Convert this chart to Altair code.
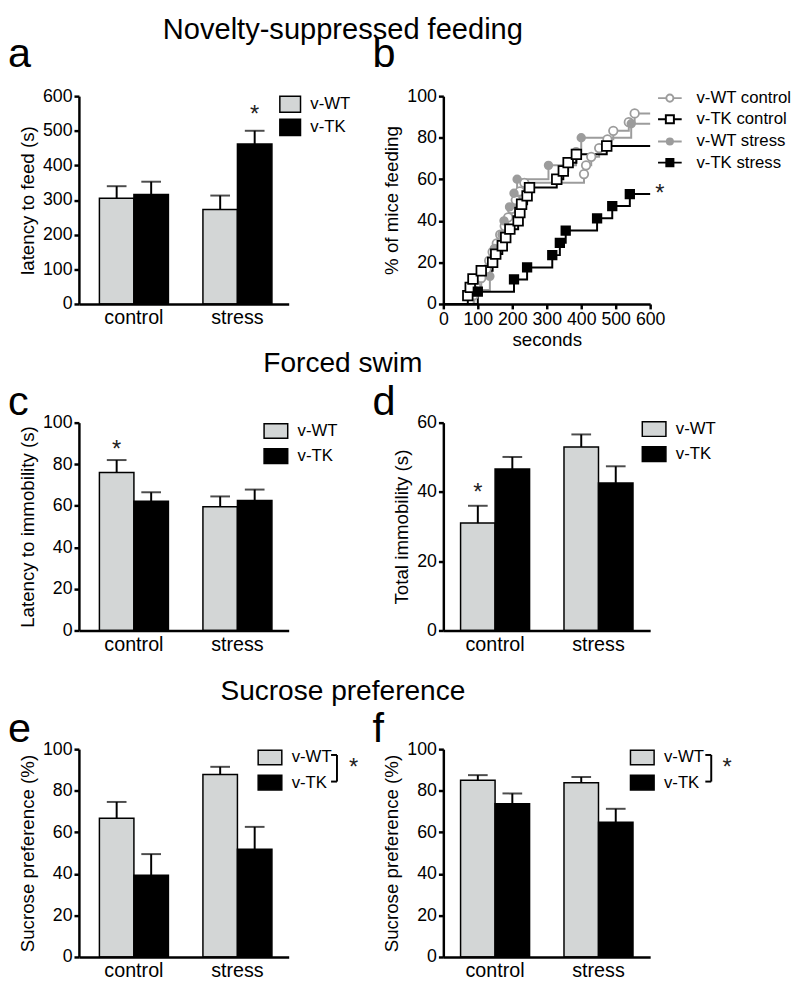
import altair as alt
import pandas as pd

FONT = "Liberation Sans"
BAR_GRAY = "#d3d6d6"
LINE_GRAY = "#9c9c9c"

groups = ["control", "stress"]
genotypes = ["v-WT", "v-TK"]

# ---- panel a: latency to feed (s)
a_wt_mean = [305, 273]
a_wt_sem = [35, 40]
a_tk_mean = [316, 462]
a_tk_sem = [37, 38]

# ---- panel c: latency to immobility (s)
c_wt_mean = [76, 59.5]
c_wt_sem = [6, 5]
c_tk_mean = [62.2, 62.6]
c_tk_sem = [4.3, 5.2]

# ---- panel d: total immobility (s)
d_wt_mean = [31.0, 53.0]
d_wt_sem = [5.0, 3.6]
d_tk_mean = [46.6, 42.6]
d_tk_sem = [3.5, 4.8]

# ---- panel e: sucrose preference (%)
e_wt_mean = [66.7, 87.8]
e_wt_sem = [7.9, 3.7]
e_tk_mean = [39.3, 51.8]
e_tk_sem = [10.2, 10.8]

# ---- panel f: sucrose preference (%)
f_wt_mean = [85.0, 83.8]
f_wt_sem = [2.5, 2.8]
f_tk_mean = [73.7, 64.8]
f_tk_sem = [5.0, 6.5]

# ---- panel b: cumulative % of mice feeding
series = ["v-WT control", "v-TK control", "v-WT stress", "v-TK stress"]
wtc_t = [88, 95, 110, 125, 133, 143, 155, 165, 178, 188, 198, 210, 222, 235,
         408, 414, 429, 452, 476, 493, 538, 555]
wtc_p = [4.2, 8.3, 12.5, 16.7, 20.8, 25.0, 29.2, 33.3, 37.5, 41.7, 45.8, 50.0,
         54.2, 58.3, 62.5, 66.7, 70.8, 75.0, 79.2, 83.3, 87.5, 91.7]
tkc_t = [71, 78, 86, 110, 143, 152, 171, 181, 193, 217, 222, 227, 243, 250,
         329, 348, 362, 386, 474]
tkc_p = [4, 8, 12, 16, 20, 24, 28, 32, 36, 40, 44, 48, 52, 56, 60, 64, 68, 72, 76]
wts_t = [90, 135, 140, 148, 170, 176, 192, 205, 214, 305, 385, 400, 545]
wts_p = [6.7, 13.3, 20.0, 26.7, 33.3, 40.0, 46.7, 53.3, 60.0, 66.7, 73.3, 80.0, 86.7]
tks_t = [100, 205, 243, 316, 338, 355, 446, 490, 541]
tks_p = [5.9, 11.8, 17.6, 23.5, 29.4, 35.3, 41.2, 47.1, 52.9]
b_xmax = 600

section_titles = ["Novelty-suppressed feeding", "Forced swim", "Sucrose preference"]
panel_letters = ["a", "b", "c", "d", "e", "f"]

LEFT_W = 213
RIGHT_W = 210
PANEL_H = 211
COL_GAP = 157
ROW_GAP = 120.5

RECT_PATH = "M-1,-0.62H1V0.62H-1Z"
RECT_PATH_A = "M-1,-0.78H1V0.78H-1Z"
ONE = pd.DataFrame({"k": [0]})


def text_layer(txt, x, y, size, align="left"):
    return alt.Chart(ONE).mark_text(text=txt, fontSize=size, font=FONT, color="black",
                                    align=align, baseline="alphabetic").encode(
        x=alt.value(x), y=alt.value(y))


def bars_panel(wt_mean, wt_sem, tk_mean, tk_sem, ymax, ystep, ytitle, letter, letter_y,
               width, x_po, x_align, leg_x, leg_y, leg_path, leg_size, leg_rowpad,
               stars=None, bracket=None, section=None):
    rows = []
    for gi, g in enumerate(groups):
        rows.append({"group": g, "genotype": "v-WT", "mean": wt_mean[gi],
                     "top": wt_mean[gi] + wt_sem[gi]})
        rows.append({"group": g, "genotype": "v-TK", "mean": tk_mean[gi],
                     "top": tk_mean[gi] + tk_sem[gi]})
    df = pd.DataFrame(rows)
    xenc = alt.X("group:N", sort=groups,
                 scale=alt.Scale(domain=groups, paddingInner=1 / 3, paddingOuter=x_po, align=x_align),
                 axis=alt.Axis(title=None, ticks=False, tickSize=0, labelAngle=0,
                               labelFontSize=20, labelPadding=4, zindex=1))
    xo = alt.XOffset("genotype:N", sort=genotypes,
                     scale=alt.Scale(domain=genotypes, paddingInner=0, paddingOuter=0))
    yscale = alt.Scale(domain=[0, ymax], nice=False)
    yaxis = alt.Axis(title=ytitle, values=list(range(0, ymax + 1, ystep)), zindex=1)
    base = alt.Chart(df)
    bars = base.mark_bar(stroke="black", strokeWidth=1.5).encode(
        x=xenc, xOffset=xo,
        y=alt.Y("mean:Q", scale=yscale, axis=yaxis),
        fill=alt.Fill("genotype:N", sort=genotypes,
                      scale=alt.Scale(domain=genotypes, range=[BAR_GRAY, "black"]),
                      legend=alt.Legend(title=None, orient="none", legendX=leg_x, legendY=leg_y,
                                        symbolType=leg_path, symbolSize=leg_size,
                                        symbolStrokeColor="black", symbolStrokeWidth=1.5,
                                        labelFontSize=17, labelOffset=9, rowPadding=leg_rowpad,
                                        direction="vertical", labelColor="black", labelFont=FONT)))
    err = base.mark_rule(color="black", strokeWidth=2).encode(
        x=xenc, xOffset=xo, y=alt.Y("mean:Q", scale=yscale, axis=yaxis), y2="top:Q")
    cap = base.mark_tick(color="black", thickness=2, size=20).encode(
        x=xenc, xOffset=xo, y=alt.Y("top:Q", scale=yscale, axis=yaxis))
    layers = [bars, err, cap]
    if stars is not None:
        sdf = pd.DataFrame(stars)
        layers.append(alt.Chart(sdf).mark_text(text="*", fontSize=24, font=FONT, color="#222222",
                                               baseline="middle").encode(
            x=xenc,
            xOffset=xo,
            y=alt.Y("y:Q", scale=yscale, axis=yaxis)))
    if bracket is not None:
        bx, y_hi, y_lo, sx = bracket
        layers.append(alt.Chart(ONE).mark_rule(color="black", strokeWidth=2).encode(
            x=alt.value(bx), y=alt.datum(y_hi), y2=alt.datum(y_lo)))
        layers.append(alt.Chart(ONE).mark_rule(color="black", strokeWidth=2).encode(
            x=alt.value(bx - 6), x2=alt.value(bx), y=alt.datum(y_hi)))
        layers.append(alt.Chart(ONE).mark_rule(color="black", strokeWidth=2).encode(
            x=alt.value(bx - 6), x2=alt.value(bx), y=alt.datum(y_lo)))
        layers.append(alt.Chart(ONE).mark_text(text="*", fontSize=24, font=FONT, color="#222222",
                                               baseline="middle").encode(
            x=alt.value(sx), y=alt.datum((y_hi + y_lo) / 2)))
    layers.append(text_layer(letter, -72, letter_y, 42))
    if section is not None:
        layers.append(text_layer(section[0], section[1], section[2], section[3], align="center"))
    return alt.layer(*layers).properties(width=width, height=PANEL_H)


# ---------- panel b ----------
def series_rows(name, ts, ps, shape, fill, stroke, size):
    line_rows = [{"series": name, "t": 0, "p": 0, "col": stroke}]
    pt_rows = []
    for t, p in zip(ts, ps):
        line_rows.append({"series": name, "t": t, "p": p, "col": stroke})
        pt_rows.append({"series": name, "t": t, "p": p, "shape": shape, "fill": fill,
                        "stroke": stroke, "size": size})
    line_rows.append({"series": name, "t": b_xmax, "p": ps[-1], "col": stroke})
    return line_rows, pt_rows


line_all, pt_all = [], []
for name, ts, ps, shp, fl, st, sz in [
    ("v-WT control", wtc_t, wtc_p, "circle", "white", LINE_GRAY, 75),
    ("v-WT stress", wts_t, wts_p, "circle", LINE_GRAY, LINE_GRAY, 60),
    ("v-TK control", tkc_t, tkc_p, "square", "white", "black", 95),
    ("v-TK stress", tks_t, tks_p, "square", "black", "black", 75),
]:
    lr, pr = series_rows(name, ts, ps, shp, fl, st, sz)
    line_all += lr
    pt_all += pr
line_df = pd.DataFrame(line_all)
pt_df = pd.DataFrame(pt_all)

bx_scale = alt.Scale(domain=[0, b_xmax], nice=False)
by_scale = alt.Scale(domain=[0, 100], nice=False)
bx_axis = alt.Axis(title="seconds", values=list(range(0, b_xmax + 1, 100)), labelFlush=False,
                   labelOverlap=False, labelBound=False, titlePadding=2, zindex=1)
by_axis = alt.Axis(title="% of mice feeding", values=list(range(0, 101, 20)), zindex=1)
bX = alt.X("t:Q", scale=bx_scale, axis=bx_axis)
bY = alt.Y("p:Q", scale=by_scale, axis=by_axis)

b_lines = alt.Chart(line_df).mark_line(interpolate="step-after", strokeWidth=2).encode(
    x=bX, y=bY,
    detail="series:N",
    stroke=alt.Stroke("col:N", scale=None),
)
b_points = alt.Chart(pt_df).mark_point(filled=True, strokeWidth=1.8, opacity=1).encode(
    x=bX, y=bY,
    shape=alt.Shape("shape:N", scale=None),
    fill=alt.Fill("fill:N", scale=None),
    stroke=alt.Stroke("stroke:N", scale=None),
    size=alt.Size("size:Q", scale=None),
)
leg_paths = [
    "M-1,0H-0.3M0.3,0H1M-0.3,0A0.3,0.3,0,1,0,0.3,0A0.3,0.3,0,1,0,-0.3,0Z",
    "M-1,0H-0.34M0.34,0H1M-0.34,-0.34H0.34V0.34H-0.34Z",
    "M-1,0H-0.26M0.26,0H1M-0.26,0A0.26,0.26,0,1,0,0.26,0A0.26,0.26,0,1,0,-0.26,0Z",
    "M-1,0H-0.3M0.3,0H1M-0.3,-0.3H0.3V0.3H-0.3Z",
]
b_leg_def = alt.Legend(title=None, orient="none", legendX=217, legendY=-11,
                       symbolSize=576, symbolStrokeWidth=2, labelFontSize=17, labelOffset=14,
                       rowPadding=0.5, direction="vertical", labelColor="black", labelFont=FONT)
b_legend = alt.Chart(pd.DataFrame({"series": series, "t": [0] * 4, "p": [0] * 4})).transform_filter(
    "false").mark_point(filled=True, strokeWidth=2).encode(
    x=bX, y=bY,
    shape=alt.Shape("series:N", sort=series, scale=alt.Scale(domain=series, range=leg_paths),
                    legend=b_leg_def),
    fill=alt.Fill("series:N", sort=series,
                  scale=alt.Scale(domain=series, range=["white", "white", LINE_GRAY, "black"]),
                  legend=b_leg_def),
    stroke=alt.Stroke("series:N", sort=series,
                      scale=alt.Scale(domain=series, range=[LINE_GRAY, "black", LINE_GRAY, "black"]),
                      legend=b_leg_def),
)
b_star = alt.Chart(pd.DataFrame({"t": [628], "p": [tks_p[-1]]})).mark_text(
    text="*", fontSize=24, font=FONT, color="#222222", baseline="middle").encode(
    x=bX, y=bY)

panel_b = alt.layer(b_lines, b_points, b_legend, b_star,
                    text_layer(panel_letters[1], -72, -30, 42)).properties(
    width=RIGHT_W, height=PANEL_H)

# ---------- bar panels ----------
panel_a = bars_panel(a_wt_mean, a_wt_sem, a_tk_mean, a_tk_sem, 600, 100, "latency to feed (s)",
                     panel_letters[0], -30, LEFT_W, 0.18, 0.55, 203, -3.3, RECT_PATH_A, 441, 0.5,
                     stars={"group": ["stress"], "genotype": ["v-TK"], "y": [545]},
                     section=(section_titles[0], 268, -58, 29.5))
panel_c = bars_panel(c_wt_mean, c_wt_sem, c_tk_mean, c_tk_sem, 100, 20, "Latency to immobility (s)",
                     panel_letters[2], -8, LEFT_W, 0.18, 0.55, 187, -4.5, RECT_PATH, 576, 1.5,
                     stars={"group": ["control"], "genotype": ["v-WT"], "y": [87]},
                     section=(section_titles[1], 268, -51, 28.5))
panel_d = bars_panel(d_wt_mean, d_wt_sem, d_tk_mean, d_tk_sem, 60, 20, "Total immobility (s)",
                     panel_letters[3], -8, RIGHT_W, 1 / 6, 0.5, 201, -6.5, RECT_PATH, 576, 1.5,
                     stars={"group": ["control"], "genotype": ["v-WT"], "y": [39.8]})
panel_e = bars_panel(e_wt_mean, e_wt_sem, e_tk_mean, e_tk_sem, 100, 20, "Sucrose preference (%)",
                     panel_letters[4], -7, LEFT_W, 0.18, 0.55, 181, -4.5, RECT_PATH, 576, 1.5,
                     bracket=(262, 97.2, 84.4, 279),
                     section=(section_titles[2], 268, -50, 28.5))
panel_f = bars_panel(f_wt_mean, f_wt_sem, f_tk_mean, f_tk_sem, 100, 20, "Sucrose preference (%)",
                     panel_letters[5], -7, RIGHT_W, 1 / 6, 0.5, 189, -4.5, RECT_PATH, 576, 1.5,
                     bracket=(272, 97.2, 84.4, 288))

chart = alt.concat(panel_a, panel_b, panel_c, panel_d, panel_e, panel_f, columns=2,
                   spacing={"row": ROW_GAP, "column": COL_GAP}, bounds="flush").resolve_scale(
    fill="independent", stroke="independent", shape="independent"
).resolve_legend(
    fill="independent", stroke="independent", shape="independent"
).properties(
    padding=0
).configure(font=FONT).configure_view(stroke=None).configure_axis(
    domainColor="black", domainWidth=2.5, tickColor="black", tickWidth=2.5, tickSize=5,
    labelColor="black", labelFontSize=18, labelFont=FONT, titleFont=FONT, titleFontSize=19,
    titleFontWeight="normal", titleColor="black", grid=False, labelPadding=2, titlePadding=5,
    labelOverlap=False
).configure_legend(labelFont=FONT)

chart.save("out.html", embed_options={"renderer": "svg", "actions": False})
